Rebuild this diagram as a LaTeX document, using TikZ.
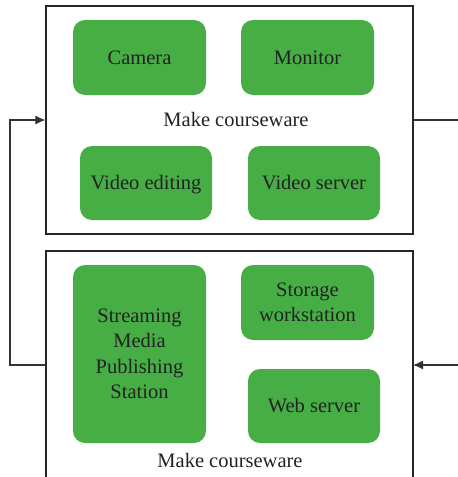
\documentclass[tikz,border=0pt]{standalone}
\usepackage{fontspec}
\setmainfont{Liberation Serif}
\usetikzlibrary{arrows.meta}
\definecolor{boxgreen}{HTML}{46AE45}
\definecolor{txt}{HTML}{222222}
\tikzset{
  gbox/.style={fill=boxgreen, draw=none, rounded corners=12pt, text=txt,
    font=\fontsize{20.5}{25.5}\selectfont, align=center, inner sep=0pt},
  oneline/.style={text height=15pt, text depth=2pt},
  frame/.style={draw=black!85, line width=1.2pt},
  lbl/.style={text=txt, font=\fontsize{20.5}{25.5}\selectfont, inner sep=0pt},
  conn/.style={draw=black!80, line width=1.1pt},
  arr/.style={conn, -{Latex[length=10pt,width=9pt]}}
}
\begin{document}
\begin{tikzpicture}[x=1pt,y=-1pt]
\useasboundingbox (0,0) rectangle (458,477);
% frames
\node[frame, minimum width=367pt, minimum height=228pt, inner sep=0pt] (top) at (229.5,120) {};
\draw[frame] (46,478) -- (46,251) -- (413,251) -- (413,478);
% top boxes
\node[gbox, oneline, minimum width=133pt, minimum height=75pt] (cam) at (139.5,57.5) {Camera};
\node[gbox, oneline, minimum width=133pt, minimum height=75pt] (mon) at (307.5,57.5) {Monitor};
\node[lbl, oneline] (l1) at (236,120) {Make courseware};
\node[gbox, oneline, minimum width=132pt, minimum height=74pt] (ved) at (146,183) {Video editing};
\node[gbox, oneline, minimum width=132pt, minimum height=74pt] (vse) at (314,183) {Video server};
% bottom boxes
\node[gbox, minimum width=133pt, minimum height=178pt] (stm) at (139.5,354) {Streaming\\Media\\Publishing\\Station};
\node[gbox, minimum width=133pt, minimum height=75pt] (sto) at (307.5,302.5) {Storage\\workstation};
\node[gbox, oneline, minimum width=132pt, minimum height=74pt] (web) at (314,406) {Web server};
\node[lbl, oneline] (l2) at (230,461) {Make courseware};
% connectors
\coordinate (bl) at (46,365);
\coordinate (lc) at (10,365);
\coordinate (tr) at (458,120);
\coordinate (br) at (458,365);
\coordinate (bR) at (413,365);
\draw[arr] (bl) -- (lc) |- (top.west);
\draw[conn] (top.east) -- (tr);
\draw[arr] (br) -- (bR);
\end{tikzpicture}
\end{document}
